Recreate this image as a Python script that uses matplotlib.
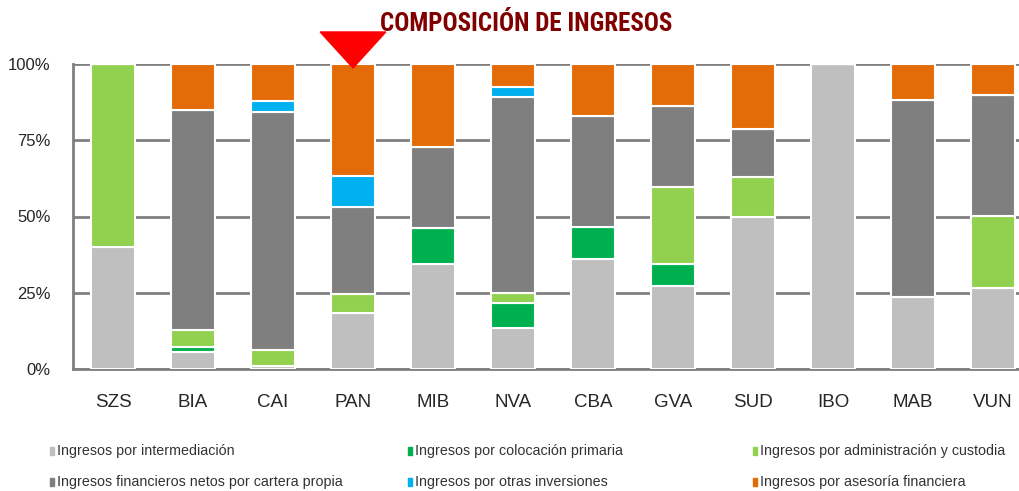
import matplotlib
matplotlib.use('Agg')
import matplotlib.pyplot as plt
import numpy as np
from matplotlib import font_manager
from matplotlib.patches import Polygon, Rectangle


def pick(names):
    for n in names:
        try:
            font_manager.findfont(n, fallback_to_default=False)
            return n
        except ValueError:
            pass
    return 'DejaVu Sans'


narrow = pick(['Liberation Sans Narrow', 'Roboto Condensed', 'Liberation Sans'])
base = pick(['Liberation Sans', 'DejaVu Sans'])

# data (% of total income per broker)
brokers = ['SZS', 'BIA', 'CAI', 'PAN', 'MIB', 'NVA', 'CBA', 'GVA', 'SUD', 'IBO', 'MAB', 'VUN']
intermediacion = [40.0, 5.5, 1.0, 18.3, 34.3, 13.5, 36.2, 27.3, 50.0, 100.0, 23.5, 26.5]
colocacion = [0.0, 1.7, 0.0, 0.0, 11.8, 8.3, 10.2, 7.0, 0.0, 0.0, 0.0, 0.0]
administracion = [60.0, 5.7, 5.3, 6.4, 0.0, 3.1, 0.0, 25.5, 12.9, 0.0, 0.0, 23.8]
cartera = [0.0, 72.0, 78.1, 28.4, 26.8, 64.4, 36.4, 26.4, 15.9, 0.0, 64.7, 39.4]
otras = [0.0, 0.0, 3.5, 10.2, 0.0, 3.2, 0.0, 0.0, 0.0, 0.0, 0.0, 0.0]
asesoria = [0.0, 15.1, 12.1, 36.7, 27.1, 7.5, 17.2, 13.8, 21.2, 0.0, 11.8, 10.3]

series = [
    ('Ingresos por intermediación', intermediacion, '#BFBFBF'),
    ('Ingresos por colocación primaria', colocacion, '#00B050'),
    ('Ingresos por administración y custodia', administracion, '#92D050'),
    ('Ingresos financieros netos por cartera propia', cartera, '#7F7F7F'),
    ('Ingresos por otras inversiones', otras, '#00B0F0'),
    ('Ingresos por asesoría financiera', asesoria, '#E36C09'),
]

fig = plt.figure(figsize=(10.2, 4.91), dpi=100, facecolor='white')
ax = fig.add_axes([73 / 1020, 1 - 369 / 491, 960 / 1020, 305 / 491])

x = np.arange(len(brokers))
bottom = np.zeros(len(brokers))
for name, vals, col in series:
    vals = np.array(vals)
    ax.bar(x, vals, 0.54, bottom=bottom, color=col, edgecolor='white',
           linewidth=1.5, zorder=3)
    bottom += vals

ax.set_xlim(-0.5, len(brokers) - 0.5)
ax.set_ylim(0, 100)
ax.set_yticks([0, 25, 50, 75, 100])
ax.set_yticklabels(['0%', '25%', '50%', '75%', '100%'], fontsize=12,
                   family=base, color='#262626')
ax.set_xticks(x)
ax.set_xticklabels(brokers, fontsize=13.5, family=base, color='#262626')
ax.tick_params(axis='both', length=0)
ax.tick_params(axis='x', pad=18)
ax.tick_params(axis='y', pad=16)
ax.grid(axis='y', color='#808080', linewidth=2, zorder=0)
for s in ['top', 'right']:
    ax.spines[s].set_visible(False)
for s in ['left', 'bottom']:
    ax.spines[s].set_color('#808080')
    ax.spines[s].set_linewidth(2)

# red marker pointing at PAN
ip = brokers.index('PAN')
tri = Polygon([[ip - 0.41, 110.5], [ip + 0.41, 110.5], [ip, 98.7]],
              closed=True, color='#FF0000', clip_on=False, zorder=5)
ax.add_patch(tri)

fig.text(526 / 1020, 1 - 24 / 491, 'COMPOSICIÓN DE INGRESOS', ha='center',
         va='center', fontsize=18, fontweight='bold', color='#800000',
         family=narrow)

# legend (two rows, three columns)
cols_x = [57, 415, 760]
rows_y = [451, 482]
order = [(0, 0), (0, 1), (0, 2), (1, 0), (1, 1), (1, 2)]
for (r, c), (name, vals, col) in zip(order, series):
    fx = cols_x[c] / 1020
    fy = 1 - rows_y[r] / 491
    fig.patches.append(Rectangle((fx - 7 / 1020, fy - 4 / 491), 4 / 1020, 8 / 491,
                                 transform=fig.transFigure, color=col))
    fig.text(fx, fy, name, ha='left', va='center', fontsize=10.3,
             family=base, color='#333333')

fig.savefig('out.png', dpi=100, facecolor='white')
